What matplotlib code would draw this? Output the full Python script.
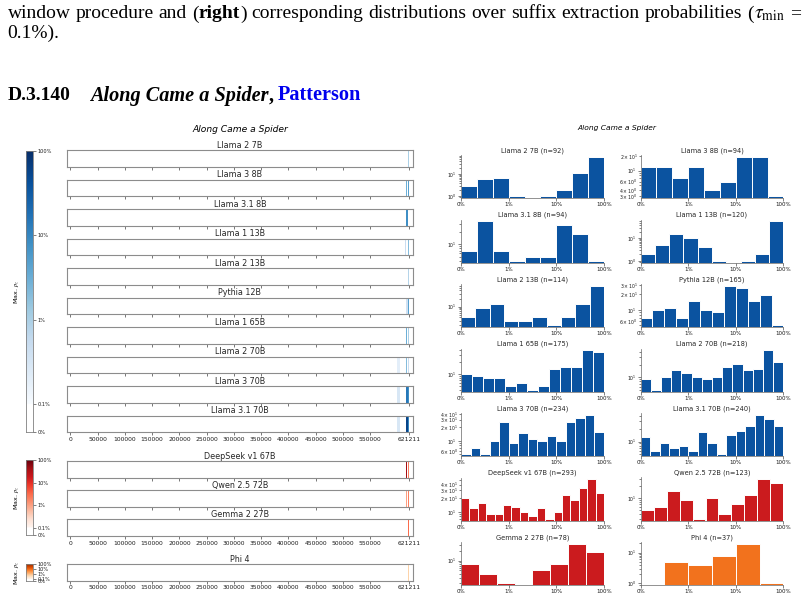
import numpy as np
import matplotlib
matplotlib.use('Agg')
import matplotlib.pyplot as plt

W, H = 804, 601

book = "Along Came a Spider"
author = "Patterson"
section = "D.3.140"
book_len = 621211

blue_models = ["Llama 2 7B", "Llama 3 8B", "Llama 3.1 8B", "Llama 1 13B", "Llama 2 13B",
               "Pythia 12B", "Llama 1 65B", "Llama 2 70B", "Llama 3 70B", "Llama 3.1 70B"]
red_models = ["DeepSeek v1 67B", "Qwen 2.5 72B", "Gemma 2 27B"]
orange_models = ["Phi 4"]

# (start token, end token, max p_z) along the book
spans = {
    "Llama 2 7B": [(617000, 618000, 0.002), (620000, 621000, 0.01)],
    "Llama 3 8B": [(615500, 616800, 0.03), (619800, 621000, 0.05)],
    "Llama 3.1 8B": [(615500, 616500, 0.01), (616500, 619500, 0.08)],
    "Llama 1 13B": [(614500, 615500, 0.005), (619500, 620800, 0.02)],
    "Llama 2 13B": [(615200, 616200, 0.01), (619500, 620800, 0.008)],
    "Pythia 12B": [(614800, 616000, 0.03), (616000, 619200, 0.004), (619200, 620300, 0.05)],
    "Llama 1 65B": [(615500, 616600, 0.03), (619500, 620600, 0.01)],
    "Llama 2 70B": [(599000, 605500, 0.002), (615500, 616700, 0.02), (619500, 620700, 0.005)],
    "Llama 3 70B": [(599000, 605500, 0.003), (614800, 616000, 0.05), (616000, 619000, 0.15),
                    (619000, 620500, 0.08)],
    "Llama 3.1 70B": [(599000, 605500, 0.003), (614800, 616500, 0.3), (616500, 619500, 0.6),
                      (619500, 620800, 0.1)],
    "DeepSeek v1 67B": [(615000, 617800, 0.4), (619800, 621000, 0.02)],
    "Qwen 2.5 72B": [(614800, 617000, 0.01), (619500, 621000, 0.02)],
    "Gemma 2 27B": [(619800, 621000, 0.03)],
    "Phi 4": [(619000, 621000, 0.005)],
}

# histogram counts, bins spread evenly in log10 between 0.1% and 100%
hist_n = {"Llama 2 7B": 92, "Llama 3 8B": 94, "Llama 3.1 8B": 94, "Llama 1 13B": 120,
          "Llama 2 13B": 114, "Pythia 12B": 165, "Llama 1 65B": 175, "Llama 2 70B": 218,
          "Llama 3 70B": 234, "Llama 3.1 70B": 240, "DeepSeek v1 67B": 293,
          "Qwen 2.5 72B": 123, "Gemma 2 27B": 78, "Phi 4": 37}
hist_counts = {
    "Llama 2 7B": [3, 6, 7, 1, 0, 1, 2, 11, 61],
    "Llama 3 8B": [12, 12, 7, 12, 4, 6, 19, 19, 3],
    "Llama 3.1 8B": [7, 35, 7, 4, 5, 5, 29, 18, 4],
    "Llama 1 13B": [2, 5, 16, 10, 4, 1, 0, 1, 2, 56],
    "Llama 2 13B": [4, 9, 13, 3, 3, 4, 2, 4, 13, 59],
    "Pythia 12B": [7, 10, 11, 7, 15, 10, 9, 29, 27, 15, 19, 5],
    "Llama 1 65B": [10, 9, 8, 8, 5, 6, 4, 5, 13, 15, 15, 38, 35],
    "Llama 2 70B": [9, 5, 10, 15, 13, 10, 9, 10, 18, 21, 15, 16, 44, 23],
    "Llama 3 70B": [5, 7, 5, 10, 27, 9, 15, 11, 10, 13, 10, 26, 32, 38, 16],
    "Llama 3.1 70B": [13, 6, 9, 7, 8, 6, 17, 9, 5, 14, 18, 23, 42, 33, 23],
    "DeepSeek v1 67B": [20, 12, 16, 9, 9, 14, 13, 10, 8, 12, 7, 10, 23, 18, 34, 52, 26],
    "Qwen 2.5 72B": [5, 6, 15, 9, 3, 10, 4, 7, 12, 29, 23],
    "Gemma 2 27B": [8, 4, 2, 0, 5, 8, 33, 18],
    "Phi 4": [0, 5, 4, 8, 19, 1],
}
hist_order = blue_models + red_models + orange_models

cb_ticks = [0, 0.001, 0.01, 0.1, 1.0]
cb_labels = ["0%", "0.1%", "1%", "10%", "100%"]

group_cmap = {}
for m in blue_models:
    group_cmap[m] = plt.get_cmap('Blues')
for m in red_models:
    group_cmap[m] = plt.get_cmap('Reds')
for m in orange_models:
    group_cmap[m] = plt.get_cmap('Oranges')
bar_colour = {'Blues': '#0b53a0', 'Reds': '#cb1b1e', 'Oranges': '#f2721d'}


def rect(x0, y0, x1, y1):
    return [x0 / W, 1 - y1 / H, (x1 - x0) / W, (y1 - y0) / H]


def cpos(v):
    # log10 above 0.1%, short linear stub from 0.1% down to 0%
    v = np.asarray(v, float)
    return np.where(v >= 1e-3, np.log10(np.maximum(v, 1e-3)), -3.33 + 0.33 * v / 1e-3)


def ccol(cmap, v):
    if v < 1e-3:
        return (1, 1, 1, 1)
    return cmap((float(cpos(v)) + 3) / 3)


fig = plt.figure(figsize=(8.04, 6.01), dpi=100)
plt.rcParams['mathtext.fontset'] = 'stix'
renderer = fig.canvas.get_renderer()


def put_words(x0, y, words, x1=None, space=0.0, **kw):
    # words: list of [(text, extra kwargs), ...]; justified between x0 and x1
    made, widths = [], []
    for word in words:
        parts, w = [], 0
        for s, extra in word:
            opts = dict(kw)
            opts.update(extra)
            t = fig.text(0, 1 - y / H, s, va='baseline', **opts)
            parts.append((t, w))
            w += t.get_window_extent(renderer).width
        made.append(parts)
        widths.append(w)
    gap = space
    if x1 is not None and len(words) > 1:
        gap = (x1 - x0 - sum(widths)) / (len(words) - 1)
    x = x0
    for parts, w in zip(made, widths):
        for t, off in parts:
            t.set_x((x + off) / W)
        x += w + gap


serif = dict(family='Liberation Serif', fontsize=14)
line1 = [[("window", {})], [("procedure", {})], [("and", {})],
         [("(", {}), ("right", {'weight': 'bold'}), (")", {})],
         [("corresponding", {})], [("distributions", {})], [("over", {})],
         [("suffix", {})], [("extraction", {})], [("probabilities", {})],
         [("(", {}), (r"$\tau_{\mathrm{min}}$", {})], [("=", {})]]
put_words(7.5, 18.5, line1, x1=801, **serif)
put_words(7.5, 38, [[("0.1%).", {})]], **serif)
bold = {'weight': 'bold'}
put_words(7.5, 100.5, [[(section, bold)]], **serif)
put_words(90, 100.5, [[(book, {'weight': 'bold', 'style': 'italic'}), (",", bold)],
                      [(author, {'weight': 'bold', 'color': '#0000ee'})]], space=4,
          family='Liberation Serif', fontsize=14.6)

# ---- left: max p_z along the book
fig.text(240 / W, 1 - 130 / H, book, style='italic', fontsize=6.6, ha='center', va='center')

groups = [(blue_models, 150, 29.5, (26, 151, 33, 432)),
          (red_models, 461, 29.2, (26, 460, 33, 535)),
          (orange_models, 564, 29.2, (26, 564, 33, 581))]
xt = list(range(0, 550001, 50000)) + [book_len]
for models, top0, pitch, cbr in groups:
    cmap = group_cmap[models[0]]
    for i, m in enumerate(models):
        top = top0 + pitch * i
        ax = fig.add_axes(rect(67, top, 413, top + 16.5))
        ax.set_xlim(-6000, 628500)
        ax.set_ylim(0, 1)
        ax.set_yticks([])
        ax.set_xticks(xt)
        ax.tick_params(axis='x', length=2, width=0.5, labelsize=4.3, pad=1.5,
                       colors='0.25', labelcolor='0.1')
        if i != len(models) - 1:
            ax.tick_params(labelbottom=False)
        for s in ax.spines.values():
            s.set_color('0.55')
            s.set_linewidth(0.8)
        ax.set_title(m, fontsize=5.8, pad=1.5, color='0.15')
        for a, b, v in spans[m]:
            ax.axvspan(a, b, color=ccol(cmap, v), lw=0)

    cax = fig.add_axes(rect(*cbr))
    t = np.linspace(-3.33, 0, 400)
    rgba = cmap(np.clip((t + 3) / 3, 0, 1))
    rgba[t < -3] = (1, 1, 1, 1)
    cax.imshow(rgba[:, None, :], extent=[0, 1, -3.33, 0], origin='lower', aspect='auto')
    cax.set_xticks([])
    cax.yaxis.tick_right()
    cax.set_yticks(cpos(cb_ticks))
    cax.set_yticklabels(cb_labels)
    cax.tick_params(axis='y', length=2, width=0.5, labelsize=3.6, pad=1, colors='0.3',
                    labelcolor='0.1')
    cax.yaxis.set_label_position('left')
    cax.set_ylabel(r"Max. $p_z$", fontsize=4.6, labelpad=3,
                   family='DejaVu Sans')
    for s in cax.spines.values():
        s.set_color('0.5')
        s.set_linewidth(0.6)

# ---- right: distributions over extraction probabilities
fig.text(617 / W, 1 - 128 / H, book, style='italic', fontsize=5.4, ha='center', va='center')
for k, m in enumerate(hist_order):
    r, c = divmod(k, 2)
    x0 = 461 if c == 0 else 640.5
    top = 155 + 64.5 * r
    ax = fig.add_axes(rect(x0, top, x0 + 143, top + 43.3))
    cnt = hist_counts[m]
    edges = np.linspace(-3, 0, len(cnt) + 1)
    ax.bar(edges[:-1], cnt, width=np.diff(edges), align='edge',
           color=bar_colour[group_cmap[m].name], edgecolor='white', linewidth=0.7)
    ax.set_yscale('log')
    ax.set_xlim(-3, 0)
    ax.set_xticks([-3, -2, -1, 0])
    ax.set_xticklabels(["0%", "1%", "10%", "100%"])
    ax.tick_params(axis='x', length=2, width=0.5, labelsize=4, pad=1, colors='0.3',
                   labelcolor='0.1')
    ax.tick_params(axis='y', which='both', width=0.5, labelsize=3.3, pad=1,
                   colors='0.3', labelcolor='0.1')
    ax.tick_params(axis='y', which='major', length=2)
    ax.tick_params(axis='y', which='minor', length=1.2)
    for side in ['top', 'right']:
        ax.spines[side].set_visible(False)
    for side in ['left', 'bottom']:
        ax.spines[side].set_color('0.4')
        ax.spines[side].set_linewidth(0.5)
    ax.set_title(f"{m} (n={hist_n[m]})", fontsize=4.8, pad=2, color='0.15')

fig.savefig('out.png', dpi=100)
